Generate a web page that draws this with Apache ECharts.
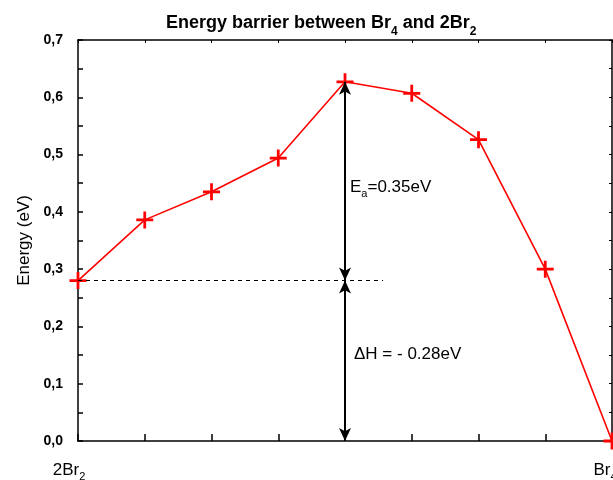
<!DOCTYPE html>
<html><head><meta charset="utf-8">
<script src="https://cdn.jsdelivr.net/npm/echarts@6/dist/echarts.min.js"></script>
<style>html,body{margin:0;padding:0;background:#fff}#c{width:613px;height:480px}</style>
</head><body><div id="c"></div>
<script>
var reactionCoord = [0, 1, 2, 3, 4, 5, 6, 7, 8];
var energy = [0.280, 0.386, 0.435, 0.494, 0.627, 0.607, 0.526, 0.300, 0.000];
var xEndLabels = {0: '{a|2Br}{s0|2}', 8: '{a|Br}{s8|4}'};
var barrierTop = 0.627, reactantLevel = 0.28, productLevel = 0;
var dashEnd = 4.57;
var eaText = '{a|E}{s|a}{a|=0.35eV}';
var dhText = 'ΔH = - 0.28eV';

var FF = 'Liberation Sans, Arial';
var sub = {
  a: {fontSize: 17, fontFamily: FF, color: '#000', lineHeight: 24, verticalAlign: 'middle'},
  s: {fontSize: 11, fontFamily: FF, color: '#000', lineHeight: 24, verticalAlign: 'bottom'},
  s0: {fontSize: 11, fontFamily: FF, color: '#000', lineHeight: 24, verticalAlign: 'bottom', padding: [0, 18, 0, 0]},
  s8: {fontSize: 11, fontFamily: FF, color: '#000', lineHeight: 24, verticalAlign: 'bottom', padding: [0, 14, 0, 0]}
};
var chart = echarts.init(document.getElementById('c'));
var axisLine = {show: true, onZero: false, lineStyle: {color: '#000', width: 1.5}};
chart.setOption({
  animation: false,
  title: {
    text: '{a|Energy barrier between Br}{s|4}{a| and 2Br}{s|2}',
    left: 161, top: 3,
    textStyle: {rich: {
      a: {fontSize: 18, fontWeight: 'bold', fontFamily: FF, color: '#000', lineHeight: 30, verticalAlign: 'middle'},
      s: {fontSize: 12, fontWeight: 'bold', fontFamily: FF, color: '#000', lineHeight: 30, verticalAlign: 'bottom'}
    }}
  },
  grid: {left: 78, right: 1, top: 40, bottom: 39, outerBoundsMode: 'none', containLabel: false},
  xAxis: [{
    type: 'value', min: 0, max: 8, interval: 1,
    axisLine: axisLine,
    axisTick: {show: true, inside: true, length: 7, lineStyle: {color: '#000', width: 1.5}},
    axisLabel: {margin: 17, formatter: function (v) { return xEndLabels[v] || ''; }, rich: sub, showMaxLabel: true, showMinLabel: true, hideOverlap: false},
    splitLine: {show: false}
  }, {
    type: 'value', position: 'top', min: 0, max: 8, interval: 1,
    axisLine: axisLine,
    axisTick: {show: true, inside: true, length: 3, lineStyle: {color: '#000', width: 1}},
    axisLabel: {show: false}, splitLine: {show: false}
  }],
  yAxis: [{
    type: 'value', min: 0, max: 0.7, interval: 0.1,
    name: 'Energy (eV)', nameLocation: 'middle', nameGap: 42,
    nameTextStyle: {fontSize: 17, fontFamily: FF, color: '#000'},
    axisLine: axisLine,
    axisTick: {show: true, inside: true, length: 5, lineStyle: {color: '#000', width: 1.5}},
    minorTick: {show: true, splitNumber: 2, length: 5, lineStyle: {color: '#000', width: 1.5}},
    axisLabel: {margin: 15, fontSize: 14, fontWeight: 'bold', fontFamily: FF, color: '#000',
      formatter: function (v) { return v.toFixed(1).replace('.', ','); }},
    splitLine: {show: false}
  }, {
    type: 'value', position: 'right', min: 0, max: 0.7, interval: 0.1,
    axisLine: axisLine,
    axisTick: {show: true, inside: true, length: 3, lineStyle: {color: '#000', width: 1}},
    minorTick: {show: true, splitNumber: 2, length: 3, lineStyle: {color: '#000', width: 1}},
    axisLabel: {show: false}, splitLine: {show: false}
  }],
  series: [{
    type: 'line',
    data: reactionCoord.map(function (x, i) { return [x, energy[i]]; }),
    symbol: 'path://M0,6.7 H16 V9.3 H0 Z M6.7,0 H9.3 V16 H6.7 Z',
    symbolSize: 17,
    itemStyle: {color: '#ff0000'},
    lineStyle: {color: '#ff0000', width: 1.6},
    clip: false,
    z: 3,
    markLine: {
      silent: true,
      symbol: ['arrow', 'arrow'],
      symbolSize: [9, 13],
      label: {show: false},
      lineStyle: {color: '#000', width: 2, type: 'solid'},
      data: [
        [{coord: [4, barrierTop]}, {coord: [4, reactantLevel]}],
        [{coord: [4, reactantLevel]}, {coord: [4, productLevel]}],
        [{coord: [0, reactantLevel], symbol: 'none', lineStyle: {width: 1, type: [4, 4], color: '#000'}},
         {coord: [dashEnd, reactantLevel], symbol: 'none'}]
      ]
    },
    markPoint: {
      silent: true,
      symbol: 'circle', symbolSize: 0,
      data: [
        {coord: [4, 0.442], label: {show: true, position: 'right', distance: 5, formatter: eaText, rich: sub}},
        {coord: [4, 0.152], label: {show: true, position: 'right', distance: 9, formatter: dhText,
          fontSize: 17, fontFamily: FF, color: '#000'}}
      ]
    }
  }]
});
</script></body></html>
